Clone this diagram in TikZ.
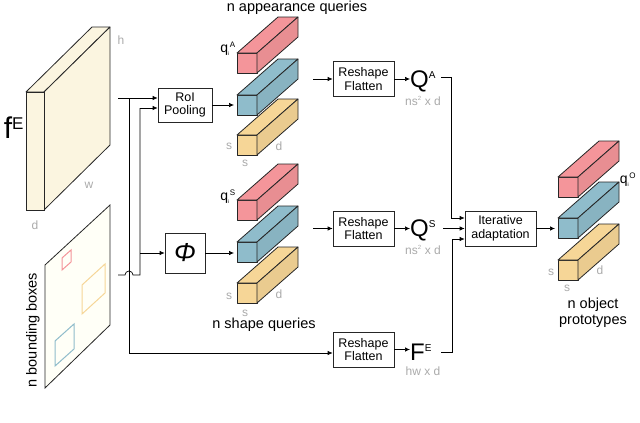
\documentclass[tikz,border=0pt]{standalone}
\usepackage{fontspec}
\setmainfont{Liberation Sans}
\usetikzlibrary{arrows.meta}
\definecolor{qred}{HTML}{F4959A}
\definecolor{qblue}{HTML}{8FBCCB}
\definecolor{qyel}{HTML}{F6D697}
\definecolor{cream}{HTML}{FBF5E0}
\definecolor{lab}{HTML}{AAAAAA}
\newcommand\qbar[3]{%
 \filldraw[fill=#3,draw=black!85,line width=0.8pt,line join=round] (#1,#2) rectangle ++(20,20);
 \filldraw[fill=#3,draw=black!85,line width=0.8pt,line join=round] (#1,#2) -- ++(20,0) -- ++(41,-36) -- ++(-20,0) -- cycle;
 \filldraw[fill=#3!95!black,draw=black!85,line width=0.8pt,line join=round] (#1+20,#2) -- ++(41,-36) -- ++(0,20) -- ++(-41,36) -- cycle;}
\tikzset{
 box/.style={draw=black!85,line width=0.7pt,fill=white,align=center,font=\fontsize{12.5}{13.5}\selectfont,inner sep=0pt},
 con/.style={line width=0.7pt},
 arr/.style={con,-{Latex[length=5pt,width=4.5pt]}},
 gl/.style={text=lab,font=\fontsize{12}{12}\selectfont,inner sep=0pt},
 big/.style={font=\fontsize{14.5}{16}\selectfont,inner sep=0pt,align=center},
}
\begin{document}
\begin{tikzpicture}[x=1pt,y=-1pt]
\useasboundingbox (0,0) rectangle (640,423);
% feature map
\filldraw[fill=cream,draw=black!85,line width=0.8pt,line join=round] (26,92) -- (44,92) -- (110,27) -- (92,27) -- cycle;
\filldraw[fill=cream,draw=black!85,line width=0.8pt,line join=round] (44,92) -- (110,27) -- (110,145) -- (44,210) -- cycle;
\filldraw[fill=cream,draw=black!85,line width=0.8pt] (26,92) rectangle (44,210);
\node[gl] (lh) at (121,40) {h};
\node[gl] (lw) at (89,185) {w};
\node[gl] (ld) at (35,225) {d};
\node[inner sep=0pt,font=\fontsize{30}{30}\selectfont] (fE) at (14,128) {f\textsuperscript{\fontsize{17}{17}\selectfont E}};
% bounding boxes plane
\filldraw[fill=white!97!yellow,draw=black!85,line width=0.8pt] (45,265) -- (110,205) -- (110,325) -- (45,388) -- cycle;
\draw[qred,line width=1pt] (62,270) -- (71,262) -- (71,250) -- (62,258) -- cycle;
\draw[qyel,line width=1pt] (82,314) -- (105,293) -- (105,264) -- (82,285) -- cycle;
\draw[qblue,line width=1pt] (55,366) -- (74,349) -- (74,324) -- (55,341) -- cycle;
\node[rotate=90,big] (nbb) at (33,330) {n bounding boxes};
% boxes
\node[box,minimum width=54pt,minimum height=34pt] (roi) at (185,105) {RoI\\Pooling};
\node[box,minimum width=40pt,minimum height=40pt,font=\fontsize{26}{26}\selectfont\itshape] (phi) at (185,253) {Φ};
\node[box,minimum width=61pt,minimum height=35pt] (r1) at (363.5,79) {Reshape\\Flatten};
\node[box,minimum width=61pt,minimum height=35pt] (r2) at (363.5,228.5) {Reshape\\Flatten};
\node[box,minimum width=61pt,minimum height=35pt] (r3) at (363.5,349.5) {Reshape\\Flatten};
\node[box,minimum width=71pt,minimum height=35pt] (it) at (500.5,228.5) {Iterative\\adaptation};
% connectors left
\coordinate (fo) at (118,98);
\coordinate (bo) at (118,275);
\coordinate (v1) at (129,98);
\coordinate (v2) at (129,353);
\coordinate (h1) at (125,275);
\coordinate (u1) at (140,275);
\coordinate (u2) at (140,108);
\coordinate (u3) at (140,253);
\draw[arr] (fo) -- (roi.west |- fo);
\draw[arr] (v1) -- (v2) -- (r3.west |- v2);
\draw[con] (bo) -- (h1) arc[start angle=180,end angle=0,radius=4pt] -- (u1) -- (u2);
\draw[arr] (u2) -- (roi.west |- u2);
\draw[arr] (u3) -- (phi.west);
\coordinate (ro) at (234,105);
\coordinate (po) at (234,253);
\draw[arr] (roi.east) -- (ro);
\draw[arr] (phi.east) -- (po);
% query bars
\qbar{237}{53}{qred}\qbar{237}{95}{qblue}\qbar{237}{135}{qyel}
\qbar{237}{200}{qred}\qbar{237}{242}{qblue}\qbar{237}{283}{qyel}
\qbar{558}{177}{qred}\qbar{558}{218}{qblue}\qbar{558}{260}{qyel}
\node[inner sep=0pt,font=\fontsize{14}{14}\selectfont] (qa) at (228,49) {q\textsubscript{\fontsize{5}{5}\selectfont i}\textsuperscript{\fontsize{8}{8}\selectfont A}};
\node[inner sep=0pt,font=\fontsize{14}{14}\selectfont] (qs) at (228,197) {q\textsubscript{\fontsize{5}{5}\selectfont i}\textsuperscript{\fontsize{8}{8}\selectfont S}};
\node[inner sep=0pt,font=\fontsize{14}{14}\selectfont] (qo) at (628,180) {q\textsubscript{\fontsize{5}{5}\selectfont i}\textsuperscript{\fontsize{8}{8}\selectfont O}};
\node[gl] (s1) at (229,146) {s};\node[gl] (s2) at (245,163) {s};\node[gl] (d1) at (279,146) {d};
\node[gl] (s3) at (229,296) {s};\node[gl] (s4) at (245,313) {s};\node[gl] (d2) at (279,294) {d};
\node[gl] (s5) at (551,272) {s};\node[gl] (s6) at (567,288) {s};\node[gl] (d3) at (600,270) {d};
\node[big] (nap) at (297,8) {n appearance queries};
\node[big] (nsq) at (264,325) {n shape queries};
\node[big] (nop) at (593,313) {n object\\prototypes};
% to reshape
\coordinate (a1) at (313,79);
\coordinate (a2) at (313,228.5);
\draw[arr] (a1) -- (r1.west);
\draw[arr] (a2) -- (r2.west);
% outputs
\node[inner sep=0pt,anchor=west,font=\fontsize{24}{24}\selectfont] (QA) at (410,81) {Q\textsuperscript{\fontsize{10}{10}\selectfont A}};
\node[inner sep=0pt,anchor=west,font=\fontsize{24}{24}\selectfont] (QS) at (410,230) {Q\textsuperscript{\fontsize{10}{10}\selectfont S}};
\node[inner sep=0pt,anchor=west,font=\fontsize{24}{24}\selectfont] (FE) at (410,352) {F\textsuperscript{\fontsize{10}{10}\selectfont E}};
\node[gl] (l1) at (423,101) {ns\textsuperscript{\fontsize{6}{6}\selectfont 2} x d};
\node[gl] (l2) at (423,250) {ns\textsuperscript{\fontsize{6}{6}\selectfont 2} x d};
\node[gl] (l3) at (423,371) {hw x d};
\draw[arr] (r1.east) -- (QA.west |- r1.east);
\draw[arr] (r2.east) -- (QS.west |- r2.east);
\draw[arr] (r3.east) -- (FE.west |- r3.east);
\coordinate (qae) at (441,77);
\coordinate (fee) at (441,352);
\coordinate (qse) at (443,228.5);
\draw[arr] (qae) -- (451,77) -- (451,218) -- (it.west |- 0,218);
\draw[arr] (qse) -- (it.west);
\draw[arr] (fee) -- (452,352) -- (452,239) -- (it.west |- 0,239);
\coordinate (io) at (555,228.5);
\draw[arr] (it.east) -- (io);
\end{tikzpicture}
\end{document}
